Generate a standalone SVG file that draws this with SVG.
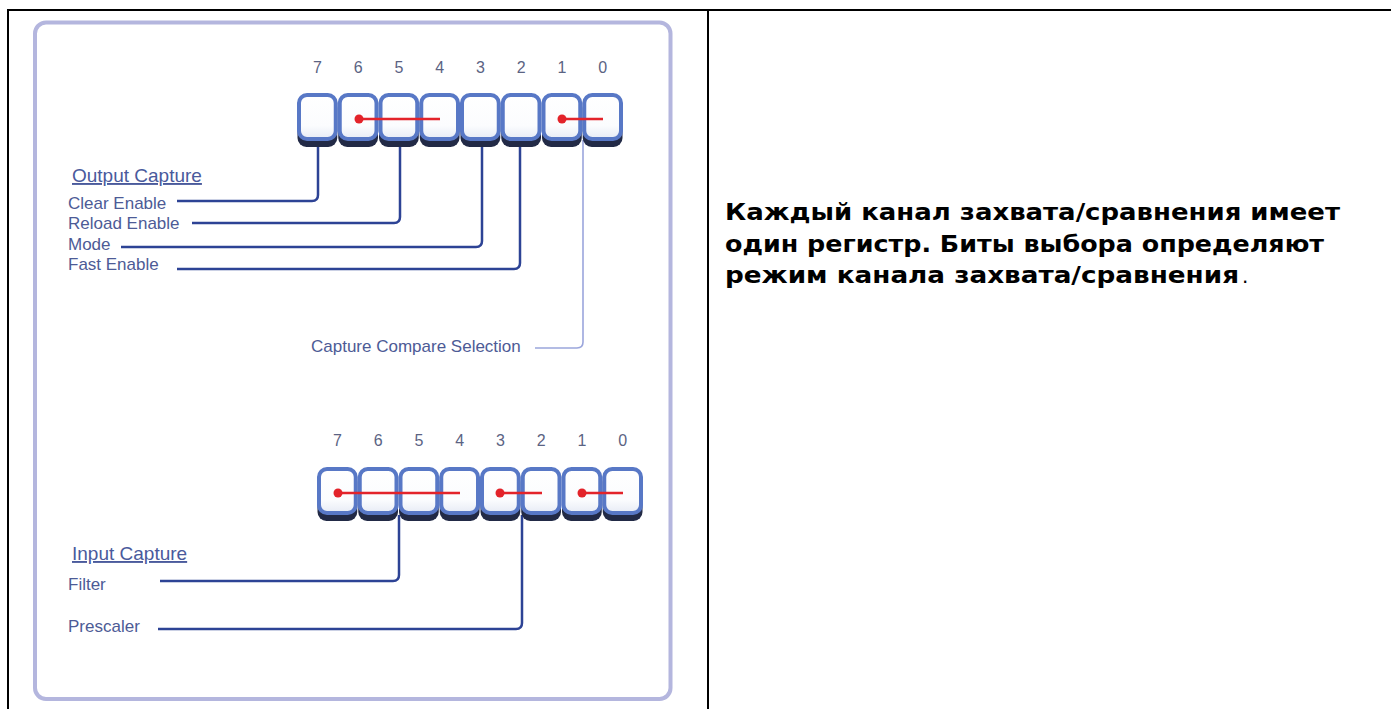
<svg xmlns="http://www.w3.org/2000/svg" xmlns:xlink="http://www.w3.org/1999/xlink" width="1391" height="709" viewBox="0 0 1391 709">
<style>
.frame{stroke:#000;stroke-width:2;fill:none}
.panel{fill:#fff;stroke:#b4b6de;stroke-width:4}
.num{font-family:"Liberation Sans",Arial,sans-serif;font-size:16px;fill:#5b6383;text-anchor:middle}
.hdr{font-family:"Liberation Sans",Arial,sans-serif;font-size:19px;fill:#4a5a9c;text-decoration:underline}
.lbl{font-family:"Liberation Sans",Arial,sans-serif;font-size:17px;fill:#4d5b96}
.conn{fill:none;stroke:#2d4395;stroke-width:2.5}
.conn-light{fill:none;stroke:#9ba6dc;stroke-width:1.6}
.red{stroke:#e3232a;stroke-width:2.5}
.dot{fill:#e3232a}
.ru{font-family:"DejaVu Sans","Noto Sans",sans-serif;font-size:23px;font-weight:bold;fill:#000}
</style>
<defs>
<linearGradient id="cellFill" x1="0" y1="0" x2="0" y2="1">
<stop offset="0" stop-color="#ffffff"/>
<stop offset="0.7" stop-color="#fbfcfe"/>
<stop offset="1" stop-color="#e6ebf5"/>
</linearGradient>
<g id="cell">
<rect x="0.5" y="6" width="39.75" height="48" rx="9" fill="#222a46"/>
<rect x="2" y="2" width="36.75" height="44" rx="8" fill="url(#cellFill)" stroke="#5878c6" stroke-width="4"/>
</g>
</defs>
<rect x="0" y="0" width="1391" height="709" fill="#fff"/>
<g id="frame">
<line class="frame" x1="7" y1="10" x2="1391" y2="10"/>
<line class="frame" x1="8" y1="9" x2="8" y2="709"/>
<line class="frame" x1="708" y1="9" x2="708" y2="709"/>
</g>
<g id="panel">
<rect class="panel" x="35" y="22.5" width="635.5" height="676.5" rx="11"/>
</g>
<g id="connectors">
<path class="conn" d="M318,140 V195 Q318,201 312,201 H177"/>
<path class="conn" d="M400,140 V217 Q400,223 394,223 H192"/>
<path class="conn" d="M482,140 V241 Q482,247 476,247 H121"/>
<path class="conn" d="M520,140 V263 Q520,269 514,269 H177"/>
<path class="conn-light" d="M583,140 V342 Q583,348 577,348 H535"/>
<path class="conn" d="M399,515 V575 Q399,581 393,581 H160"/>
<path class="conn" d="M522,515 V623 Q522,629 516,629 H158"/>
</g>
<g id="reg-output">
<text class="num" x="317.4" y="72.5">7</text>
<text class="num" x="358.1" y="72.5">6</text>
<text class="num" x="398.9" y="72.5">5</text>
<text class="num" x="439.6" y="72.5">4</text>
<text class="num" x="480.4" y="72.5">3</text>
<text class="num" x="521.1" y="72.5">2</text>
<text class="num" x="561.9" y="72.5">1</text>
<text class="num" x="602.6" y="72.5">0</text>
<use xlink:href="#cell" x="297" y="93"/>
<use xlink:href="#cell" x="337.75" y="93"/>
<use xlink:href="#cell" x="378.5" y="93"/>
<use xlink:href="#cell" x="419.25" y="93"/>
<use xlink:href="#cell" x="460" y="93"/>
<use xlink:href="#cell" x="500.75" y="93"/>
<use xlink:href="#cell" x="541.5" y="93"/>
<use xlink:href="#cell" x="582.25" y="93"/>
<line class="red" x1="359" y1="119" x2="440" y2="119"/>
<circle class="dot" cx="359" cy="119" r="4.5"/>
<line class="red" x1="562" y1="119" x2="603" y2="119"/>
<circle class="dot" cx="562" cy="119" r="4.5"/>
</g>
<g id="reg-input">
<text class="num" x="337.4" y="446">7</text>
<text class="num" x="378.1" y="446">6</text>
<text class="num" x="418.9" y="446">5</text>
<text class="num" x="459.6" y="446">4</text>
<text class="num" x="500.4" y="446">3</text>
<text class="num" x="541.1" y="446">2</text>
<text class="num" x="581.9" y="446">1</text>
<text class="num" x="622.6" y="446">0</text>
<use xlink:href="#cell" x="317" y="467"/>
<use xlink:href="#cell" x="357.75" y="467"/>
<use xlink:href="#cell" x="398.5" y="467"/>
<use xlink:href="#cell" x="439.25" y="467"/>
<use xlink:href="#cell" x="480" y="467"/>
<use xlink:href="#cell" x="520.75" y="467"/>
<use xlink:href="#cell" x="561.5" y="467"/>
<use xlink:href="#cell" x="602.25" y="467"/>
<line class="red" x1="338" y1="493" x2="460" y2="493"/>
<circle class="dot" cx="338" cy="493" r="4.5"/>
<line class="red" x1="500" y1="493" x2="542" y2="493"/>
<circle class="dot" cx="500" cy="493" r="4.5"/>
<line class="red" x1="582" y1="493" x2="623" y2="493"/>
<circle class="dot" cx="582" cy="493" r="4.5"/>
</g>
<g id="labels-output">
<text class="hdr" x="72" y="182">Output Capture</text>
<text class="lbl" x="68" y="209">Clear Enable</text>
<text class="lbl" x="68" y="229">Reload Enable</text>
<text class="lbl" x="68" y="250">Mode</text>
<text class="lbl" x="68" y="270">Fast Enable</text>
<text class="lbl" x="311" y="352">Capture Compare Selection</text>
</g>
<g id="labels-input">
<text class="hdr" x="72" y="560">Input Capture</text>
<text class="lbl" x="68" y="590">Filter</text>
<text class="lbl" x="68" y="632">Prescaler</text>
</g>
<g id="description">
<text class="ru" x="725" y="220" textLength="615" lengthAdjust="spacingAndGlyphs">Каждый канал захвата/сравнения имеет</text>
<text class="ru" x="725" y="251.5" textLength="599" lengthAdjust="spacingAndGlyphs">один регистр. Биты выбора определяют</text>
<text class="ru" x="725" y="283" textLength="514" lengthAdjust="spacingAndGlyphs">режим канала захвата/сравнения</text>
<text x="1242" y="283" font-family="DejaVu Sans, sans-serif" font-size="20" fill="#000">.</text>
</g>
</svg>
